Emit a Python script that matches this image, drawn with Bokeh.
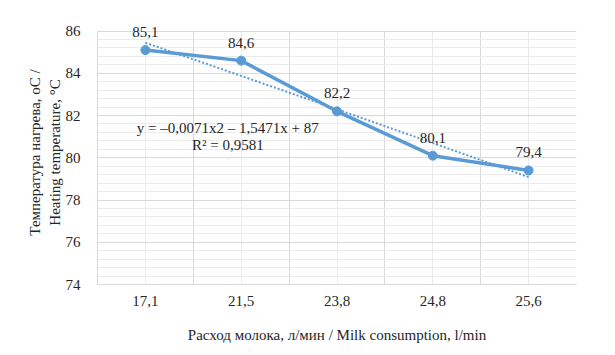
import numpy as np
from bokeh.plotting import figure
from bokeh.models import (ColumnDataSource, FixedTicker, SingleIntervalTicker, Label, Range1d)
from bokeh.embed import file_html
from bokeh.resources import INLINE

categories = ["17,1", "21,5", "23,8", "24,8", "25,6"]
temperature = [85.1, 84.6, 82.2, 80.1, 79.4]
value_labels = ["85,1", "84,6", "82,2", "80,1", "79,4"]
y_min, y_max = 74, 86
# trendline coefficients as printed on the chart: y = a*x^2 + b*x + c
trend_a, trend_b, trend_c = -0.0071, -1.5471, 87.0
eq_text = "y = –0,0071x2 – 1,5471x + 87"
r2_text = "R² = 0,9581"

FONT = "Liberation Serif"
FS = "15px"
BLUE = "#5B9BD5"
TXT = "#262626"

xs = list(range(1, len(categories) + 1))
src = ColumnDataSource(dict(x=xs, y=temperature, lab=value_labels))

# a little headroom above the top value so the data label is not clipped
p = figure(width=615, height=355, output_backend="svg", toolbar_location=None,
           x_range=Range1d(0.5, len(categories) + 0.5), y_range=Range1d(y_min, y_max + 0.5),
           min_border_left=97, min_border_right=39, min_border_top=20, min_border_bottom=71)
p.outline_line_color = None
p.background_fill_color = "white"
p.border_fill_color = "white"

# axes
p.xaxis.ticker = FixedTicker(ticks=xs)
p.xaxis.major_label_overrides = {i: c for i, c in zip(xs, categories)}
p.yaxis.ticker = SingleIntervalTicker(interval=2, num_minor_ticks=5)
p.yaxis.bounds = (y_min, y_max)
for ax in (p.xaxis[0], p.yaxis[0]):
    ax.major_tick_line_color = None
    ax.minor_tick_line_color = None
    ax.axis_line_color = "#D9D9D9"
    ax.major_label_text_font = FONT
    ax.major_label_text_font_size = FS
    ax.major_label_text_color = TXT
    ax.axis_label_text_font = FONT
    ax.axis_label_text_font_size = FS
    ax.axis_label_text_font_style = "normal"
    ax.axis_label_text_color = TXT
p.xaxis.major_label_standoff = 5
p.yaxis.major_label_standoff = 11
p.xaxis.axis_label = "Расход молока, л/мин / Milk consumption, l/min"
p.xaxis.axis_label_standoff = 18
p.yaxis.axis_label = "Температура нагрева, оС /\nHeating temperature, °С"
p.yaxis.axis_label_standoff = 0

# grids
p.xgrid.ticker = FixedTicker(ticks=[x - 0.5 for x in xs] + [xs[-1] + 0.5], minor_ticks=xs)
p.xgrid.cross_bounds = (y_min, y_max)
p.xgrid.grid_line_color = "#D9D9D9"
p.xgrid.minor_grid_line_color = "#EBEBEB"
p.ygrid.bounds = (y_min, y_max)
p.ygrid.grid_line_color = "#D9D9D9"
p.ygrid.minor_grid_line_color = "#EBEBEB"

# trendline
tx = np.linspace(xs[0], xs[-1], 60)
ty = trend_a * tx**2 + trend_b * tx + trend_c
p.line(tx, ty, line_color=BLUE, line_width=2, line_dash="2 2")

# series
p.line("x", "y", source=src, line_color=BLUE, line_width=3.5)
p.scatter("x", "y", source=src, size=9, fill_color=BLUE, line_color=BLUE)
for xi, yi, lab in zip(xs, temperature, value_labels):
    p.add_layout(Label(x=xi, y=yi, text=lab, text_font=FONT, text_font_size=FS,
                       text_color=TXT, text_align="center", text_baseline="middle",
                       y_offset=18))

# equation
p.add_layout(Label(x=1.86, y=81.42, text=eq_text, text_font=FONT, text_font_size=FS,
                   text_color=TXT, text_align="center", text_baseline="middle"))
p.add_layout(Label(x=1.86, y=80.62, text=r2_text, text_font=FONT, text_font_size=FS,
                   text_color=TXT, text_align="center", text_baseline="middle"))

open("out.html", "w").write(file_html(p, INLINE))
